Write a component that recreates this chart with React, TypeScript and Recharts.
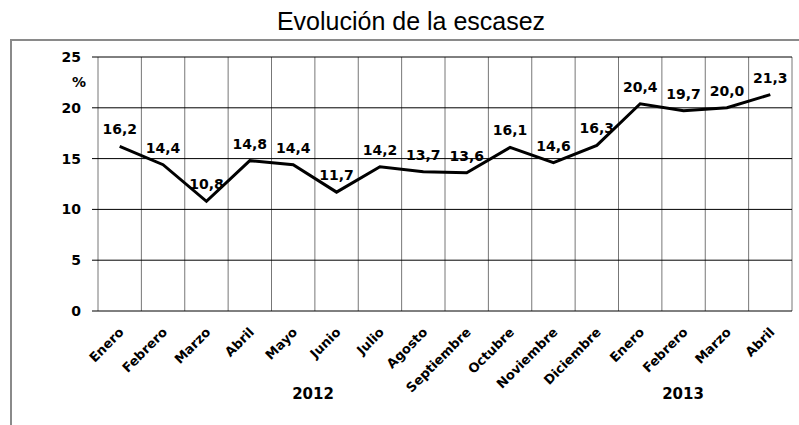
import React from 'react';
import { LineChart, Line, XAxis, YAxis, CartesianGrid, LabelList } from 'recharts';

const months = ['Enero', 'Febrero', 'Marzo', 'Abril', 'Mayo', 'Junio', 'Julio', 'Agosto', 'Septiembre', 'Octubre', 'Noviembre', 'Diciembre', 'Enero', 'Febrero', 'Marzo', 'Abril'];
const values = [16.2, 14.4, 10.8, 14.8, 14.4, 11.7, 14.2, 13.7, 13.6, 16.1, 14.6, 16.3, 20.4, 19.7, 20.0, 21.3];
const yTicks = [0, 5, 10, 15, 20, 25];
const years = ['2012', '2013'];
const title = 'Evolución de la escasez';

const data = months.map((m, i) => ({ x: i, month: m, value: values[i] }));
const monthTicks = months.map((_, i) => i);
const boundaryTicks = [...months.map((_, i) => i - 0.5), months.length - 0.5];

const boldFont = '"DejaVu Sans", Verdana, sans-serif';

const EmptyTick = () => <g />;

const MonthTick = (props: any) => {
  const { x, y, payload } = props;
  const px = x + 5;
  const py = y + 14;
  return (
    <text
      x={px}
      y={py}
      transform={`rotate(-45, ${px}, ${py})`}
      textAnchor="end"
      fontFamily={boldFont}
      fontWeight="bold"
      fontSize={13}
      fill="#000"
    >
      {months[payload.value]}
    </text>
  );
};

export default function App() {
  return (
    <div style={{ position: 'absolute', left: 0, top: 0, width: 799, height: 425, background: '#fff', overflow: 'hidden' }}>
      <div
        style={{
          position: 'absolute',
          left: 10,
          top: 39,
          width: 800,
          height: 400,
          borderLeft: '2px solid #8a8a8a',
          borderTop: '2px solid #8a8a8a',
        }}
      />
      <div
        style={{
          position: 'absolute',
          left: 0,
          width: 822,
          top: 6,
          textAlign: 'center',
          fontFamily: '"Liberation Sans", Arial, sans-serif',
          fontSize: 25,
          lineHeight: '30px',
          color: '#000',
        }}
      >
        {title}
      </div>
      <div
        style={{
          position: 'absolute',
          left: 60,
          width: 26,
          top: 74,
          textAlign: 'right',
          fontFamily: boldFont,
          fontWeight: 'bold',
          fontSize: 14,
          color: '#000',
        }}
      >
        %
      </div>
      <div style={{ position: 'absolute', left: 263, width: 100, top: 385, textAlign: 'center', fontFamily: boldFont, fontWeight: 'bold', fontSize: 15, color: '#000' }}>
        {years[0]}
      </div>
      <div style={{ position: 'absolute', left: 633, width: 100, top: 385, textAlign: 'center', fontFamily: boldFont, fontWeight: 'bold', fontSize: 15, color: '#000' }}>
        {years[1]}
      </div>
      <div style={{ position: 'absolute', left: 0, top: 0 }}>
        <LineChart width={799} height={425} data={data} margin={{ top: 57, right: 7, left: 0, bottom: 0 }}>
          <XAxis
            xAxisId="grid"
            type="number"
            dataKey="x"
            domain={[-0.5, months.length - 0.5]}
            ticks={boundaryTicks}
            interval={0}
            height={0}
            tick={<EmptyTick />}
            tickLine={{ stroke: '#777' }}
            tickSize={5}
            axisLine={false}
          />
          <XAxis
            xAxisId="month"
            type="number"
            dataKey="x"
            domain={[-0.5, months.length - 0.5]}
            ticks={monthTicks}
            interval={0}
            height={114}
            tickLine={false}
            axisLine={false}
            tick={<MonthTick />}
          />
          <YAxis
            width={98}
            domain={[0, 25]}
            ticks={yTicks}
            interval={0}
            tickSize={6}
            tickMargin={11}
            axisLine={false}
            tickLine={{ stroke: '#000' }}
            tick={{ fontFamily: boldFont, fontWeight: 'bold', fontSize: 14, fill: '#000' }}
          />
          <CartesianGrid xAxisId="grid" stroke="#777" horizontal={false} />
          <CartesianGrid xAxisId="grid" stroke="#000" vertical={false} />
          <Line
            xAxisId="month"
            type="linear"
            dataKey="value"
            stroke="#000"
            strokeWidth={3}
            dot={false}
            isAnimationActive={false}
          >
            <LabelList
              dataKey="value"
              position="top"
              offset={12}
              formatter={(v: any) => Number(v).toFixed(1).replace('.', ',')}
              style={{ fontFamily: boldFont, fontWeight: 'bold', fontSize: 14, fill: '#000' }}
            />
          </Line>
        </LineChart>
      </div>
    </div>
  );
}
